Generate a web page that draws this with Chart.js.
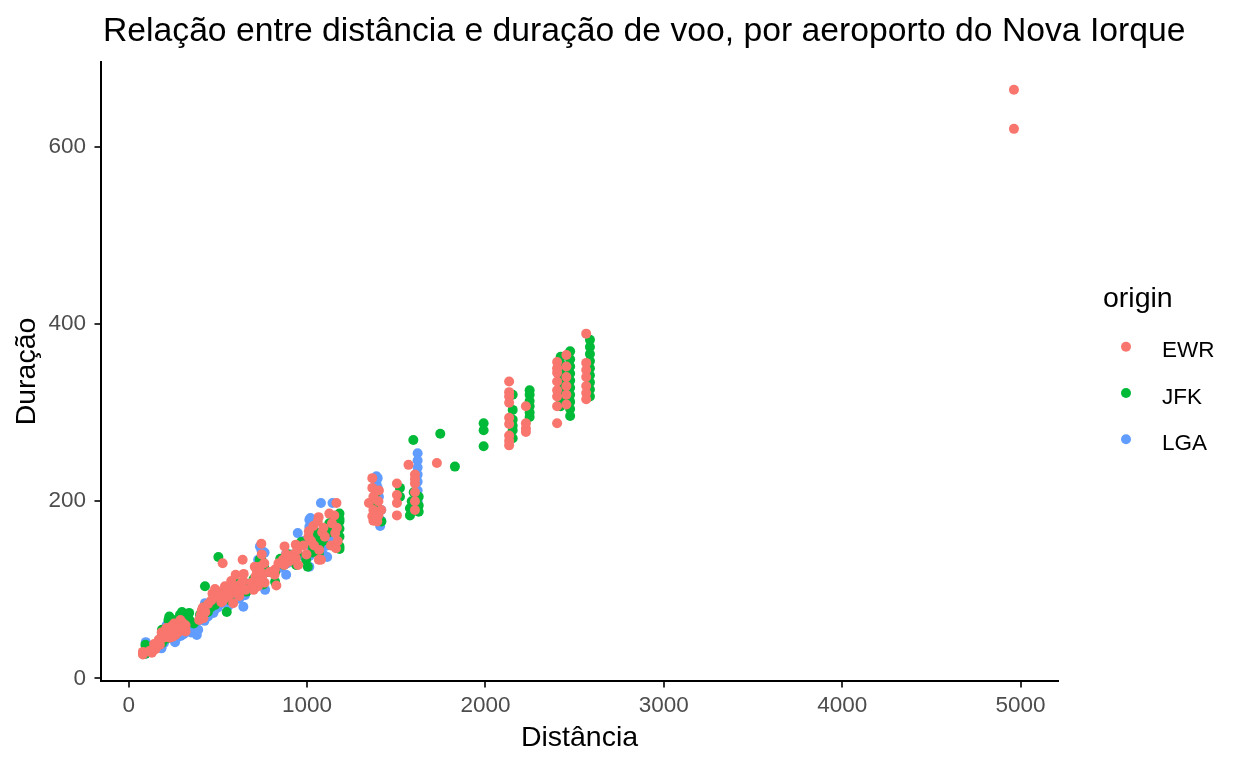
<!DOCTYPE html>
<html>
<head>
<meta charset="utf-8">
<script src="https://cdn.jsdelivr.net/npm/chart.js@4.4.1/dist/chart.umd.min.js"></script>
<style>
html,body{margin:0;padding:0;background:#ffffff;}
#wrap{width:1248px;height:768px;position:relative;}
</style>
</head>
<body>
<div id="wrap"><canvas id="c"></canvas></div>
<script>
const chartTitle = 'Relação entre distância e duração de voo, por aeroporto do Nova Iorque';
const xLabel = 'Distância';
const yLabel = 'Duração';
const legendTitle = 'origin';
const seriesNames = ['EWR', 'JFK', 'LGA'];
const seriesColors = ['#F8766D', '#00BA38', '#619CFF'];
const xTicks = [0, 1000, 2000, 3000, 4000, 5000];
const yTicks = [0, 200, 400, 600];

// [distance, duration]
const ewrPoints = [
  [80,30],[80,27],[116,31],[130,29],[143,35],[143,39],[150,33],[175,38],[185,52],
  [160,40],[169,44],[195,46],[199,48],[200,53],[209,52],[212,57],[215,51],[230,46],[235,58],[255,62],[262,49],
  [246,47],[266,56],[277,52],[282,57],[284,61],[290,66],[301,63],[305,58],[317,56],[319,60],[319,53],
  [395,66],[404,72],[410,77],[416,80],[419,68],[430,75],[445,84],[463,88],[470,96],[484,101],[488,95],[484,92],[500,98],
  [520,86],[527,130],[529,88],[533,95],[540,104],[550,92],[556,100],[569,95],[575,110],[586,85],[594,100],[600,117],[605,104],[612,96],[620,93],[628,100],[631,107],[639,134],[642,110],
  [645,118],[655,100],[690,108],[700,100],[707,126],[708,102],[711,115],[719,120],[725,104],[733,110],[735,126],[744,152],[746,140],[748,112],[755,118],[760,130],[762,108],[790,120],
  [818,117],[820,123],[828,105],[840,130],[865,134],[872,128],[874,149],[883,140],[900,132],[925,140],[937,151],[937,136],[946,145],[950,128],[980,150],[997,140],
  [1008,160],[1010,166],[1023,155],[1035,172],[1040,150],[1060,177],[1065,182],[1066,134],[1068,145],[1078,134],[1085,165],[1092,170],[1100,160],[1125,186],[1134,150],[1140,175],[1153,184],[1158,164],[1162,147],[1165,198],[1167,170],[1172,155],
  [1347,198],[1366,226],[1366,215],[1372,205],[1372,190],[1366,183],[1372,178],[1394,177],[1400,200],[1403,212],[1416,190],[1400,184],
  [1504,220],[1504,207],[1504,198],[1504,184],[1569,241],[1605,230],[1605,220],[1605,210],[1605,200],[1605,190],[1605,225],[1728,243],
  [2133,335],[2133,323],[2133,318],[2133,311],[2133,294],[2133,287],[2133,274],[2133,268],[2133,263],
  [2227,307],[2227,288],[2227,282],[2227,278],
  [2402,357],[2402,350],[2402,345],[2402,335],[2402,325],[2402,318],[2402,307],[2402,288],
  [2454,365],[2454,352],[2454,340],[2454,330],[2454,320],[2454,309],
  [2565,389],[2565,356],[2565,348],[2565,340],[2565,330],[2565,322],[2565,315],
  [4963,664],[4963,620]
];

const jfkPoints = [
  [94,32],[94,38],[94,28],[184,43],[187,48],[187,55],[187,40],[200,50],[213,45],[223,66],[228,58],[228,70],[240,60],[250,66],
  [264,50],[270,58],[275,64],[283,62],[288,72],[288,68],[299,75],[301,69],[310,72],[330,70],[339,74],[341,66],[365,62],
  [400,72],[428,81],[428,104],[444,75],[460,80],[484,83],[503,137],[520,92],[540,98],[544,90],[550,75],[558,96],[570,88],[590,110],[600,98],
  [662,107],[661,98],[700,112],[735,134],[740,118],[744,134],[755,106],[760,125],[780,120],[821,120],[821,109],[850,135],[870,128],[900,140],
  [939,128],[944,140],[967,154],[995,134],[1004,126],[1028,150],[1028,142],[1050,165],[1066,160],[1066,141],[1069,150],[1089,155],[1100,170],
  [1125,175],[1125,165],[1150,180],[1182,186],[1182,177],[1182,169],[1182,160],[1182,149],[1182,146],[1182,180],
  [1391,195],[1391,185],[1389,210],[1417,177],[1521,215],[1521,205],[1577,192],[1577,184],[1587,200],[1596,269],
  [1598,210],[1598,200],[1598,190],[1626,195],[1626,188],[1626,205],[1747,276],[1829,239],
  [1990,288],[1990,280],[1990,262],
  [2153,320],[2153,303],[2153,292],[2153,285],[2153,280],[2153,271],
  [2248,325],[2248,320],[2248,313],[2248,307],[2248,300],[2248,295],
  [2422,363],[2422,355],[2422,348],[2422,338],[2422,330],[2422,322],[2422,315],[2422,307],
  [2475,369],[2475,360],[2475,352],[2475,344],[2475,336],[2475,328],[2475,320],[2475,312],[2475,304],[2475,296],
  [2586,382],[2586,374],[2586,366],[2586,358],[2586,350],[2586,342],[2586,334],[2586,326],[2586,318]
];

const lgaPoints = [
  [96,37],[96,32],[96,28],[96,41],[110,30],[150,36],[170,42],[184,34],[188,38],[198,40],[213,60],[222,62],[230,55],[240,52],
  [260,41],[267,45],[280,54],[292,48],[308,50],[330,58],[350,52],[372,56],[382,49],[390,55],[400,66],[419,70],[425,65],[428,85],
  [445,70],[460,75],[475,74],[484,78],[500,80],[510,88],[522,85],[540,92],[544,96],[560,82],[580,100],[590,92],[620,90],
  [643,81],[652,94],[642,94],[660,98],[690,104],[716,113],[726,134],[726,120],[726,111],[736,149],[744,145],
  [753,126],[753,110],[765,100],[762,142],[800,120],[850,125],[883,117],[883,141],[890,130],[920,140],[948,164],[948,138],[955,150],[980,155],
  [1013,179],[1013,171],[1013,160],[1013,150],[1013,138],[1013,126],[1019,181],[1050,160],[1078,198],[1088,141],
  [1096,150],[1113,150],[1113,137],[1125,156],[1134,175],[1143,198],[1150,165],[1160,180],
  [1389,228],[1389,220],[1396,226],[1396,215],[1396,210],[1389,180],[1403,205],[1416,190],[1416,178],[1410,172],
  [1620,254],[1620,246],[1620,238],[1620,230],[1620,222],[1620,212],[1620,200],[1620,190]
];

const FONT = '"Liberation Sans", Arial, Helvetica, sans-serif';
const toXY = pts => pts.map(p => ({x: p[0], y: p[1]}));
const allSeries = [ewrPoints, jfkPoints, lgaPoints];

const overlay = {
  id: 'overlay',
  afterDraw(chart) {
    const ctx = chart.ctx;
    ctx.save();
    ctx.textAlign = 'left';
    ctx.textBaseline = 'alphabetic';
    ctx.fillStyle = '#000000';
    ctx.font = '33.7px ' + FONT;
    ctx.fillText(chartTitle, 103, 41);
    ctx.font = '28.5px ' + FONT;
    ctx.fillText(legendTitle, 1103, 306.7);
    ctx.font = '22.5px ' + FONT;
    chart.data.datasets.forEach((ds, i) => {
      const cy = 346.7 + i * 46.3;
      ctx.fillStyle = ds.backgroundColor;
      ctx.beginPath();
      ctx.arc(1126, cy, 5, 0, Math.PI * 2);
      ctx.fill();
      ctx.fillStyle = '#000000';
      ctx.fillText(ds.label, 1162, cy + 10.6);
    });
    ctx.restore();
  }
};

new Chart(document.getElementById('c'), {
  type: 'scatter',
  data: {
    datasets: seriesNames.map((name, i) => ({
      label: name,
      data: toXY(allSeries[i]),
      backgroundColor: seriesColors[i],
      borderColor: seriesColors[i],
      borderWidth: 0,
      pointRadius: 5,
      pointHoverRadius: 5
    }))
  },
  options: {
    responsive: true,
    maintainAspectRatio: false,
    animation: false,
    events: [],
    layout: { autoPadding: false, padding: { left: 0, top: 62, right: 190, bottom: 0 } },
    plugins: { legend: { display: false }, title: { display: false }, tooltip: { enabled: false } },
    scales: {
      x: {
        type: 'linear',
        min: -155,
        max: 5210,
        afterBuildTicks: s => { s.ticks = xTicks.map(v => ({ value: v })); },
        afterFit: s => { s.height = 87; },
        grid: { display: true, drawOnChartArea: false, drawTicks: true, tickLength: 6.5, color: '#333333', lineWidth: 2 },
        border: { display: true, color: '#000000', width: 2 },
        ticks: { color: '#4D4D4D', font: { family: FONT, size: 22.5 }, padding: 5, maxRotation: 0, autoSkip: false, callback: v => String(v) },
        title: { display: true, text: xLabel, color: '#000000', font: { family: FONT, size: 28.5 }, padding: { top: 0, bottom: 13 } }
      },
      y: {
        type: 'linear',
        min: -2.82,
        max: 695.4,
        afterBuildTicks: s => { s.ticks = yTicks.map(v => ({ value: v })); },
        afterFit: s => { s.width = 101; },
        grid: { display: true, drawOnChartArea: false, drawTicks: true, tickLength: 6.5, color: '#333333', lineWidth: 2 },
        border: { display: true, color: '#000000', width: 2 },
        ticks: { color: '#4D4D4D', font: { family: FONT, size: 22.5 }, padding: 8.5, autoSkip: false, callback: v => String(v) },
        title: { display: true, text: yLabel, color: '#000000', font: { family: FONT, size: 28.5 }, padding: { top: 10, bottom: 0 } }
      }
    }
  },
  plugins: [overlay]
});
</script>
</body>
</html>
